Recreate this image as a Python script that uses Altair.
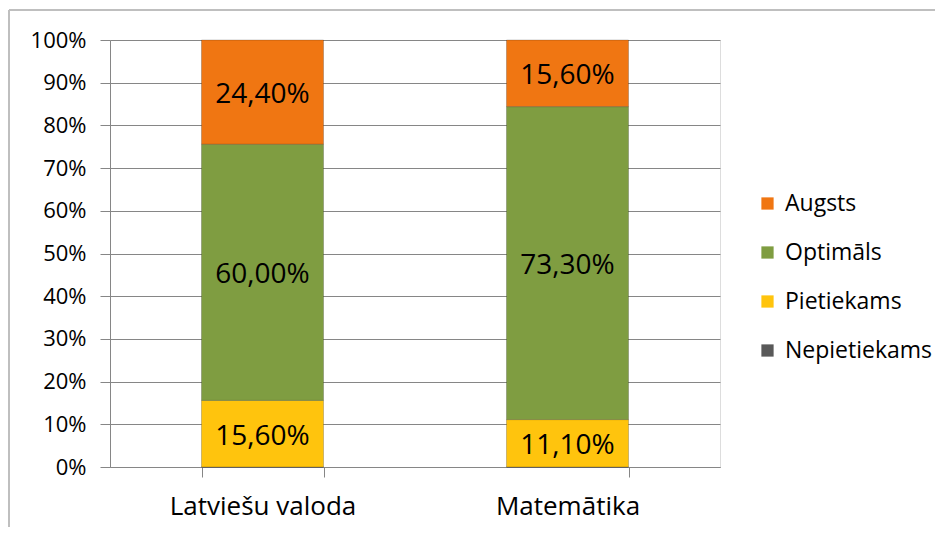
import altair as alt
import pandas as pd

subjects = ["Latviešu valoda", "Matemātika"]
levels = ["Nepietiekams", "Pietiekams", "Optimāls", "Augsts"]
latv_values = [0.0, 15.6, 60.0, 24.4]
mat_values = [0.0, 11.1, 73.3, 15.6]
legend_order = ["Augsts", "Optimāls", "Pietiekams", "Nepietiekams"]
colors = ["#F07612", "#7F9D41", "#FFC40D", "#595959"]
y_ticks = [0, 10, 20, 30, 40, 50, 60, 70, 80, 90, 100]

rows = []
for subj, vals in zip(subjects, [latv_values, mat_values]):
    for i, (lvl, v) in enumerate(zip(levels, vals)):
        rows.append({"subject": subj, "level": lvl, "ord": i, "value": v,
                     "label": f"{v:.2f}%".replace(".", ",")})
df = pd.DataFrame(rows)

FONT = "Open Sans"

base = alt.Chart(df)

x_enc = alt.X("subject:N", sort=subjects,
              scale=alt.Scale(paddingInner=0.6, paddingOuter=0.3),
              axis=alt.Axis(title=None, labelAngle=0, labelFontSize=26, labelFont=FONT,
                            labelColor="#000000", labelPadding=16, labelLimit=400,
                            domainColor="#868686", tickColor="#868686", tickSize=10,
                            tickBand="extent", grid=False))

bars = base.mark_bar(stroke="#00000033", strokeWidth=1).encode(
    x=x_enc,
    y=alt.Y("value:Q", stack="zero",
            scale=alt.Scale(domain=[0, 100], nice=False),
            axis=alt.Axis(title=None, values=y_ticks, labelExpr="datum.value + '%'",
                          labelFontSize=22, labelFont=FONT, labelColor="#000000",
                          labelPadding=14, tickSize=10, tickColor="#868686",
                          domainColor="#868686", gridColor="#868686", grid=True)),
    color=alt.Color("level:N",
                    scale=alt.Scale(domain=legend_order, range=colors),
                    legend=alt.Legend(title=None, orient="none", legendX=646, legendY=152,
                                      symbolType="square", symbolSize=150,
                                      symbolStrokeWidth=0, labelFontSize=23,
                                      labelFont=FONT, labelColor="#000000",
                                      rowPadding=25, labelOffset=6, labelLimit=300)),
    order=alt.Order("ord:Q", sort="ascending"),
)

texts = base.transform_filter("datum.value > 0").transform_stack(
    stack="value", groupby=["subject"], as_=["v0", "v1"],
    sort=[alt.SortField("ord", order="ascending")]
).transform_calculate(mid="(datum.v0 + datum.v1) / 2").mark_text(
    fontSize=28, font=FONT, color="#000000", baseline="middle", dy=3
).encode(
    x=alt.X("subject:N", sort=subjects),
    y=alt.Y("mid:Q"),
    text="label:N",
)

border_top = base.mark_rule(color="#BFBFBF", strokeWidth=2).encode(
    x=alt.value(-101), x2=alt.value(825), y=alt.value(-30))
border_left = base.mark_rule(color="#BFBFBF", strokeWidth=2).encode(
    x=alt.value(-101), y=alt.value(-30), y2=alt.value(500))

chart = alt.layer(border_top, border_left, bars, texts).properties(
    width=610, height=427,
    autosize=alt.AutoSizeParams(type="none"),
    padding={"left": 102, "top": 32, "right": 215, "bottom": 60},
).configure_view(stroke=None).configure(background="#FFFFFF")

chart.save("out.html", embed_options={"renderer": "svg", "actions": False})
